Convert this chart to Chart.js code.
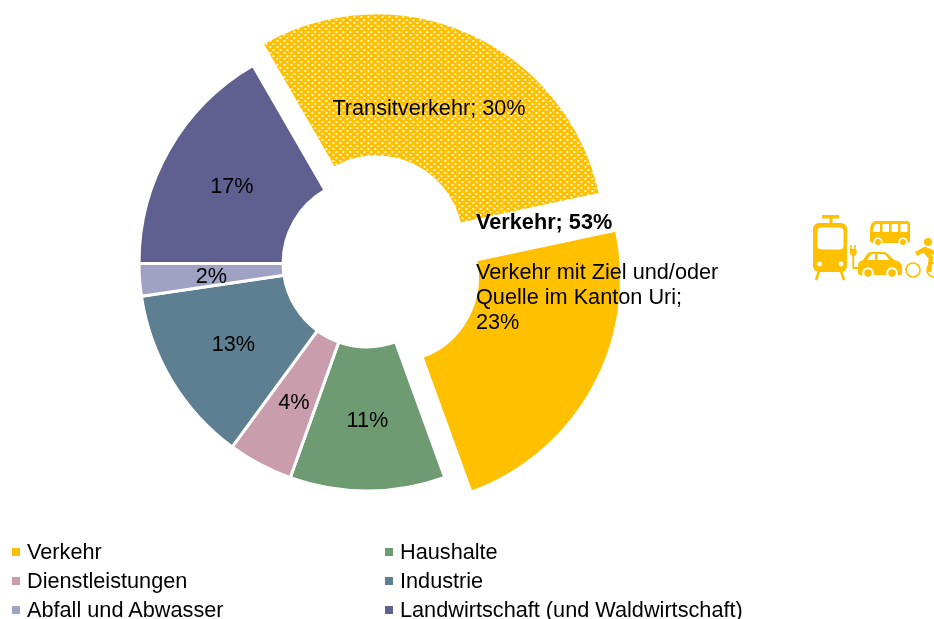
<!DOCTYPE html>
<html lang="de">
<head>
<meta charset="utf-8">
<title>Verkehr</title>
<script src="https://cdn.jsdelivr.net/npm/chart.js@4"></script>
<style>
  html, body { margin: 0; padding: 0; background: #fff; }
  #wrap { position: relative; width: 934px; height: 619px; overflow: hidden; font-family: "Liberation Sans", Arial, sans-serif; color: #000; }
  #myChart { position: absolute; left: 0; top: 0; }
  #icon { position: absolute; left: 0; top: 0; }
  .leg { position: absolute; font-size: 21.7px; line-height: 24px; white-space: nowrap; }
  .leg i { position: absolute; left: -15px; top: 8px; width: 8px; height: 8px; }
</style>
</head>
<body>
<div id="wrap">
  <canvas id="myChart" width="934" height="619"></canvas>
  <svg id="icon" width="934" height="619" fill="#FFC000">
    <!-- tram -->
    <rect x="822" y="215" width="17" height="3.5" />
    <rect x="829.5" y="216" width="3" height="8" />
    <rect x="813" y="223" width="34" height="49" rx="6" />
    <rect x="817.5" y="227.5" width="26" height="22" rx="4" fill="#fff" />
    <circle cx="819.5" cy="264" r="2.4" fill="#fff" />
    <circle cx="841" cy="264" r="2.4" fill="#fff" />
    <path d="M819 271 L816 280 M841 271 L844 280" stroke="#FFC000" stroke-width="2.6" fill="none" />
    <!-- plug -->
    <path d="M851 245 v4 M855 245 v4" stroke="#FFC000" stroke-width="1.6" />
    <path d="M850 249 h6.5 v4 q0 3 -3 3 q-3 0 -3.500 -3 z" />
    <path d="M853.300 255 V268 H860" stroke="#FFC000" stroke-width="1.8" fill="none" />
    <!-- car -->
    <path d="M858 266 q0 -5 5 -6 l4 -6 q1.500 -2 4 -2 h12 q3 0 5 2 l6 6 q7 1 8 6 v7 q0 2 -2 2 h-40 q-2 0 -2 -2 z" />
    <path d="M867 260 l3.500 -5 q.5 -1 2 -1 h2.500 v6 z M877.500 254 h5 q2 0 3 1 l4 5 h-12 z" fill="#fff" />
    <circle cx="868" cy="273" r="5.800" fill="#fff" />
    <circle cx="868" cy="273" r="3.800" />
    <circle cx="892" cy="273" r="5.800" fill="#fff" />
    <circle cx="892" cy="273" r="3.800" />
    <!-- bus -->
    <path d="M870 240 v-9 q0 -10 6 -10 h31 q3 0 3 3 v16 q0 3 -3 3 h-34 q-3 0 -3 -3 z" />
    <path d="M873 232 q0 -6 3 -8 h4 v8 z M882.500 224 h6.500 v8 h-6.500 z M891.500 224 h6.500 v8 h-6.500 z M900.500 224 h6 q1 0 1 1 v7 h-7 z" fill="#fff" />
    <circle cx="878" cy="242" r="4.600" fill="#fff" />
    <circle cx="878" cy="242" r="3" />
    <circle cx="903" cy="242" r="4.600" fill="#fff" />
    <circle cx="903" cy="242" r="3" />
    <!-- bicycle -->
    <circle cx="913" cy="270" r="7" fill="none" stroke="#FFC000" stroke-width="1.700" />
    <circle cx="934" cy="270" r="7" fill="none" stroke="#FFC000" stroke-width="1.700" />
    <circle cx="928" cy="242" r="4" />
    <path d="M916 254 L925 249 L934 253 M925 251 L931 258 L929 272" stroke="#FFC000" stroke-width="4.400" fill="none" />
  </svg>
</div>
<script>
// slice values
const sliceNames = ["Transitverkehr", "Verkehr mit Ziel und/oder Quelle im Kanton Uri", "Haushalte", "Dienstleistungen", "Industrie", "Abfall und Abwasser", "Landwirtschaft (und Waldwirtschaft)"];
const sliceValues = [30, 22.8, 11, 4.6, 12.6, 2.3, 16.7];
const sliceLabels = ["30%", "23%", "11%", "4%", "13%", "2%", "17%"];
const sliceColors = ["#FFC000", "#FFC000", "#6F9B73", "#C99DAC", "#5E7F92", "#A0A2C4", "#5F5F90"];
const sliceGaps = [23, 30, 0, 0, 0, 0, 0];

const legendNames = ["Verkehr", "Haushalte", "Dienstleistungen", "Industrie", "Abfall und Abwasser", "Landwirtschaft (und Waldwirtschaft)"];
const legendColors = ["#FFC000", "#6F9B73", "#C99DAC", "#5E7F92", "#A0A2C4", "#5F5F90"];

// legend, two columns
legendNames.forEach((name, i) => {
  const d = document.createElement("div");
  d.className = "leg";
  d.style.left = (i % 2 == 0 ? 27 : 400) + "px";
  d.style.top = (540 + Math.floor(i / 2) * 29) + "px";
  d.innerHTML = `<i style="background:${legendColors[i]}"></i>${name}`;
  document.getElementById("wrap").appendChild(d);
});

// dotted fill of the transit slice
function dotPattern(){
  const c = document.createElement("canvas");
  c.width = 7;
  c.height = 6;
  const g = c.getContext("2d");
  g.fillStyle = "#FFC000";
  g.fillRect(0, 0, 7, 6);
  g.fillStyle = "rgba(255,255,255,0.8)";
  g.fillRect(1, 1, 2, 2);
  g.fillRect(4, 4, 2, 2);
  return g.createPattern(c, "repeat");
}

const labelPlugin = {
  id: "sliceText",
  afterDraw(chart){
    const ctx = chart.ctx;
    const arcs = chart.getDatasetMeta(0).data;
    ctx.save();
    ctx.fillStyle = "#000";
    ctx.font = '21.7px "Liberation Sans", Arial, sans-serif';
    ctx.textAlign = "center";
    ctx.textBaseline = "middle";
    arcs.forEach((arc, i) => {
      if (i < 2) return;
      const p = arc.getCenterPoint();
      ctx.fillText(sliceLabels[i], p.x, p.y + 2);
    });
    ctx.fillText(sliceNames[0] + "; " + sliceLabels[0], 429, 109.5);
    ctx.textAlign = "left";
    ctx.fillText("Verkehr mit Ziel und/oder", 476, 273);
    ctx.fillText("Quelle im Kanton Uri;", 476, 298);
    ctx.fillText(sliceLabels[1], 476, 323);
    ctx.font = 'bold 21.7px "Liberation Sans", Arial, sans-serif';
    ctx.fillText("Verkehr; 53%", 476, 223.5);
    ctx.restore();
  }
};

const colors = sliceColors.slice();
colors[0] = dotPattern();

new Chart(document.getElementById("myChart"), {
  type: "doughnut",
  data: {
    labels: sliceNames,
    datasets: [{
      data: sliceValues,
      backgroundColor: colors,
      borderColor: "#fff",
      borderWidth: 3,
      // chart.js moves an arc by offset/4
      offset: sliceGaps.map((g) => g * 4),
      hoverOffset: 0
    }]
  },
  options: {
    responsive: false,
    animation: false,
    rotation: -30,
    radius: 228,
    cutout: "36.8%",
    layout: { padding: { left: 0, top: 0, right: 200, bottom: 93 } },
    plugins: { legend: { display: false }, tooltip: { enabled: false } }
  },
  plugins: [labelPlugin]
});
</script>
</body>
</html>
